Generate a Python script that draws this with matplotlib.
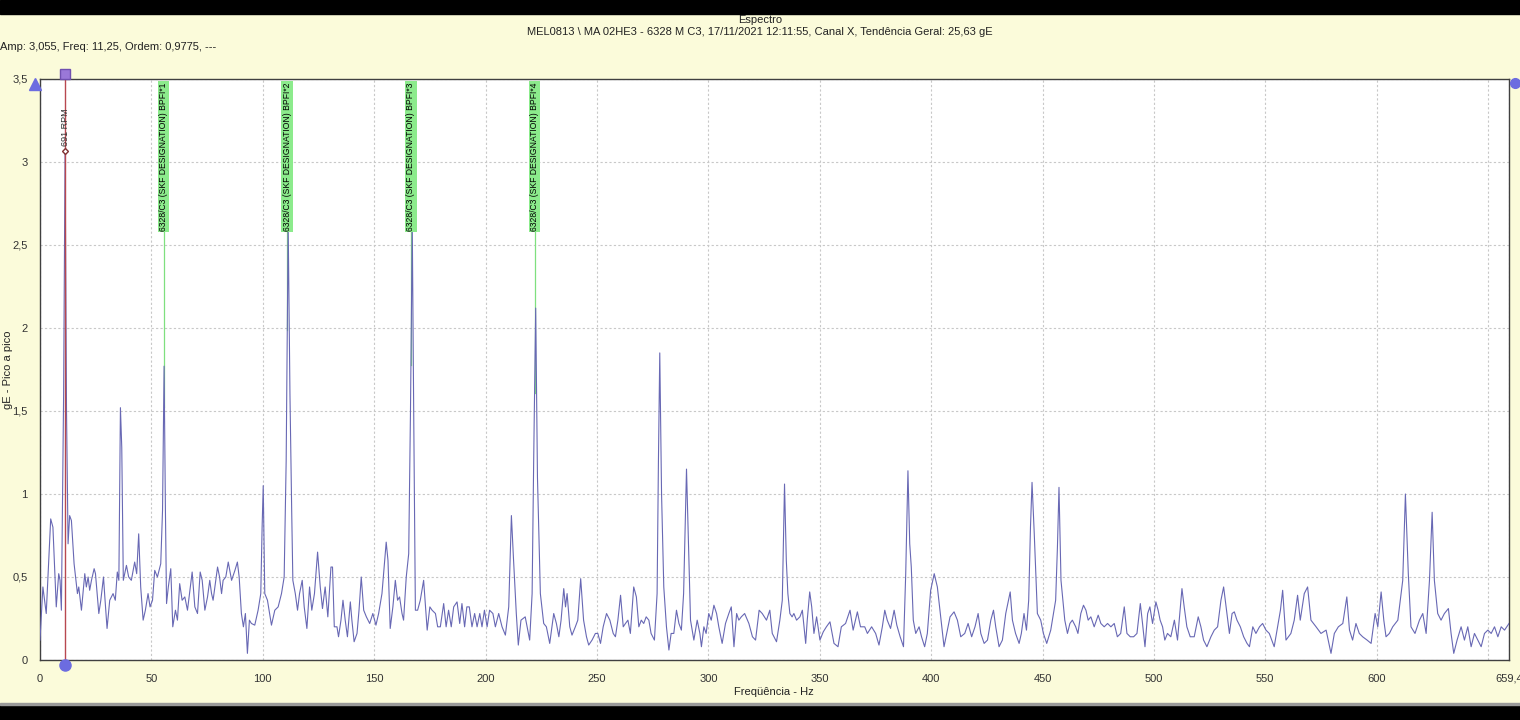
import matplotlib
matplotlib.use('Agg')
import matplotlib.pyplot as plt
from matplotlib.patches import Rectangle
import numpy as np

plt.rcParams['font.family'] = ['Liberation Sans', 'DejaVu Sans']

# ---------------- texts ----------------
title_text = "Espectro"
subtitle_text = "MEL0813 \\ MA 02HE3 - 6328 M C3, 17/11/2021 12:11:55, Canal X, Tendência Geral: 25,63 gE"
cursor_text = "Amp: 3,055, Freq: 11,25, Ordem: 0,9775, ---"
x_label = "Freqüência - Hz"
y_label = "gE - Pico a pico"

# ---------------- ticks ----------------
x_tick_values = [0, 50, 100, 150, 200, 250, 300, 350, 400, 450, 500, 550, 600, 650, 659.4]
x_tick_labels = ['0', '50', '100', '150', '200', '250', '300', '350', '400', '450',
                 '500', '550', '600', '', '659,4']
y_tick_values = [0, 0.5, 1, 1.5, 2, 2.5, 3, 3.5]
y_tick_labels = ['0', '0,5', '1', '1,5', '2', '2,5', '3', '3,5']

# ---------------- cursor / markers ----------------
marker_freq = 11.25
marker_amp = 3.055
marker_label = "691 RPM"

bpfi_freqs = [55.5, 111.0, 166.5, 222.0]
bpfi_labels = ["6328/C3 (SKF DESIGNATION) BPFI*1",
               "6328/C3 (SKF DESIGNATION) BPFI*2",
               "6328/C3 (SKF DESIGNATION) BPFI*3",
               "6328/C3 (SKF DESIGNATION) BPFI*4"]
bpfi_label_base = 2.585

# ---------------- spectrum (freq Hz, amplitude gE) ----------------
spectrum_0_110 = [
    (0, 0.12), (1.3, 0.44), (2.8, 0.28), (4.8, 0.85), (5.8, 0.80), (7.3, 0.32), (8.4, 0.52),
    (9.0, 0.48), (9.6, 0.30), (10.6, 1.6), (11.25, 3.055), (11.9, 1.5), (12.6, 0.7), (13.3, 0.87),
    (14.1, 0.84), (15.3, 0.58), (16.8, 0.40), (17.4, 0.44), (18.6, 0.30), (20.1, 0.52), (20.8, 0.44),
    (21.6, 0.50), (22.3, 0.42), (23.1, 0.48), (24.3, 0.55), (24.9, 0.52), (26.4, 0.28), (27.3, 0.36),
    (28.5, 0.50), (29.1, 0.38), (30.1, 0.19), (31.3, 0.36), (32.8, 0.40), (33.8, 0.36), (34.7, 0.53),
    (35.4, 0.48), (36.1, 1.52), (36.7, 1.28), (37.4, 0.48), (38.8, 0.57), (39.8, 0.50), (41.0, 0.48),
    (42.5, 0.59), (43.4, 0.52), (44.3, 0.76), (45.2, 0.44), (46.3, 0.24), (47.3, 0.30), (48.5, 0.40),
    (49.4, 0.32), (50.5, 0.36), (51.5, 0.54), (52.7, 0.50), (54.2, 0.58), (55.0, 0.9), (55.7, 1.77),
    (56.3, 0.9), (56.8, 0.34), (57.6, 0.44), (58.7, 0.55), (59.6, 0.20), (60.8, 0.30), (61.7, 0.24),
    (62.7, 0.46), (63.8, 0.36), (65.0, 0.38), (66.2, 0.30), (68.3, 0.53), (69.5, 0.32), (70.7, 0.28),
    (71.9, 0.53), (72.8, 0.48), (74.0, 0.30), (75.2, 0.38), (76.2, 0.48), (77.0, 0.40), (77.7, 0.36),
    (79.7, 0.56), (80.6, 0.50), (81.5, 0.40), (82.2, 0.48), (83.4, 0.50), (84.5, 0.59), (86.0, 0.48),
    (87.5, 0.54), (88.6, 0.59), (89.4, 0.50), (90.4, 0.28), (91.3, 0.20), (92.2, 0.28), (93.1, 0.04),
    (94.0, 0.24), (94.9, 0.22), (96.4, 0.21), (97.9, 0.30), (99.1, 0.40), (99.7, 0.8), (100.2, 1.05),
    (100.9, 0.40), (102.1, 0.36), (103.9, 0.21), (105.4, 0.30), (106.9, 0.32), (108.4, 0.40),
    (109.6, 0.50),
]
spectrum_110_220 = [
    (110.5, 1.2), (111.4, 2.62), (112.2, 1.6), (113.0, 0.88), (113.5, 0.48), (114.6, 0.40),
    (115.6, 0.30), (116.5, 0.40), (117.7, 0.48), (118.6, 0.32), (119.8, 0.19), (121.0, 0.44),
    (122.0, 0.30), (123.2, 0.40), (124.6, 0.65), (125.8, 0.44), (126.8, 0.31), (128.0, 0.44),
    (129.2, 0.26), (130.6, 0.56), (131.3, 0.56), (132.1, 0.20), (133.3, 0.20), (134.0, 0.14),
    (135.1, 0.24), (136.0, 0.36), (137.0, 0.24), (138.0, 0.14), (139.3, 0.35), (140.0, 0.24),
    (141.0, 0.11), (142.3, 0.16), (143.2, 0.30), (144.2, 0.50), (145.3, 0.30), (146.5, 0.26),
    (148.0, 0.22), (149.4, 0.28), (150.8, 0.21), (152.0, 0.28), (153.5, 0.40), (155.4, 0.71),
    (156.2, 0.60), (157.2, 0.19), (158.4, 0.32), (159.5, 0.48), (160.5, 0.36), (161.4, 0.38),
    (162.5, 0.28), (163.2, 0.24), (164.4, 0.50), (165.5, 0.64), (166.3, 1.5), (167.1, 2.62),
    (167.8, 1.4), (168.5, 0.30), (169.5, 0.30), (170.7, 0.36), (172.2, 0.48), (173.8, 0.18),
    (175.0, 0.32), (176.0, 0.30), (177.5, 0.28), (178.5, 0.20), (179.7, 0.20), (181.2, 0.34),
    (182.3, 0.20), (183.4, 0.30), (184.6, 0.20), (185.7, 0.32), (187.2, 0.35), (188.4, 0.22),
    (189.4, 0.34), (190.6, 0.20), (191.6, 0.32), (192.7, 0.32), (193.9, 0.20), (195.1, 0.28),
    (196.2, 0.20), (197.4, 0.28), (198.4, 0.20), (199.5, 0.30), (200.7, 0.20), (201.8, 0.30),
    (203.3, 0.28), (204.4, 0.20), (205.9, 0.28), (207.4, 0.20), (208.9, 0.15), (210.4, 0.32),
    (211.6, 0.87), (212.5, 0.62), (213.8, 0.28), (214.7, 0.09), (215.9, 0.24), (217.8, 0.26),
    (219.8, 0.12),
]
spectrum_220_330 = [
    (220.9, 0.40), (221.6, 1.2), (222.5, 2.12), (223.3, 1.1), (224.6, 0.40), (226.1, 0.22),
    (227.3, 0.20), (228.8, 0.10), (230.6, 0.28), (231.8, 0.22), (232.9, 0.14), (233.9, 0.24),
    (235.1, 0.43), (235.9, 0.32), (236.6, 0.40), (237.8, 0.20), (238.8, 0.15), (240.3, 0.20),
    (241.4, 0.24), (242.7, 0.49), (244.0, 0.24), (245.3, 0.14), (246.3, 0.09), (247.8, 0.12),
    (249.3, 0.16), (250.4, 0.16), (251.6, 0.10), (252.8, 0.20), (254.3, 0.28), (255.8, 0.24),
    (257.3, 0.16), (258.3, 0.14), (259.4, 0.24), (260.6, 0.39), (261.8, 0.20), (262.8, 0.22),
    (263.9, 0.24), (265.0, 0.16), (266.5, 0.44), (267.7, 0.38), (268.8, 0.20), (269.9, 0.24),
    (271.0, 0.22), (272.1, 0.26), (273.3, 0.24), (274.3, 0.16), (275.8, 0.12), (277.0, 0.40),
    (277.6, 1.2), (278.2, 1.85), (279.0, 1.0), (280.0, 0.44), (281.2, 0.20), (282.3, 0.06),
    (283.3, 0.16), (284.5, 0.16), (285.7, 0.30), (286.8, 0.22), (287.9, 0.18), (288.9, 0.40),
    (290.2, 1.15), (291.2, 0.64), (292.0, 0.24), (293.5, 0.12), (295.0, 0.24), (296.2, 0.16),
    (296.9, 0.08), (298.0, 0.20), (299.0, 0.16), (300.2, 0.28), (301.3, 0.24), (302.5, 0.33),
    (303.7, 0.28), (304.7, 0.20), (306.2, 0.10), (307.7, 0.22), (309.2, 0.28), (310.3, 0.32),
    (311.5, 0.08), (312.7, 0.28), (313.7, 0.24), (314.8, 0.26), (316.3, 0.28), (318.2, 0.22),
    (319.8, 0.14), (321.2, 0.12), (322.8, 0.30), (324.2, 0.28), (326.1, 0.24), (327.6, 0.30),
    (328.7, 0.16),
]
spectrum_330_440 = [
    (330.6, 0.11), (332.1, 0.24), (333.2, 0.36), (334.2, 1.06), (335.0, 0.6), (335.7, 0.40),
    (336.6, 0.28), (337.6, 0.26), (338.4, 0.28), (339.6, 0.24), (341.1, 0.26), (342.2, 0.30),
    (343.7, 0.10), (344.4, 0.24), (345.5, 0.41), (346.4, 0.32), (347.4, 0.16), (348.6, 0.26),
    (350.1, 0.12), (351.6, 0.17), (353.0, 0.20), (354.6, 0.23), (356.4, 0.10), (358.2, 0.08),
    (359.7, 0.20), (361.6, 0.22), (363.6, 0.30), (365.0, 0.18), (366.9, 0.29), (368.3, 0.20),
    (370.2, 0.20), (371.4, 0.16), (373.3, 0.20), (375.1, 0.16), (376.6, 0.09), (378.1, 0.20),
    (379.2, 0.30), (380.3, 0.24), (381.8, 0.19), (383.4, 0.30), (384.6, 0.21), (386.1, 0.14),
    (387.6, 0.08), (388.6, 0.52), (389.6, 1.14), (390.4, 0.7), (391.1, 0.56), (392.0, 0.24),
    (393.1, 0.16), (394.6, 0.20), (395.7, 0.14), (397.1, 0.08), (398.3, 0.16), (399.8, 0.42),
    (401.4, 0.52), (402.8, 0.44), (404.3, 0.26), (405.8, 0.08), (407.0, 0.16), (408.5, 0.26),
    (410.3, 0.29), (411.8, 0.24), (413.3, 0.14), (415.1, 0.16), (416.6, 0.22), (418.2, 0.14),
    (419.7, 0.20), (421.1, 0.28), (422.3, 0.16), (423.8, 0.10), (425.3, 0.12), (426.8, 0.24),
    (428.0, 0.30), (429.0, 0.20), (430.5, 0.08), (432.0, 0.12), (433.5, 0.28), (435.5, 0.41),
    (436.5, 0.24), (437.9, 0.16), (439.5, 0.10),
]
spectrum_440_550 = [
    (440.5, 0.16), (441.7, 0.28), (442.8, 0.18), (443.8, 0.36), (444.6, 0.80), (445.3, 1.07),
    (446.3, 0.76), (447.7, 0.28), (449.2, 0.24), (450.4, 0.16), (451.9, 0.10), (453.7, 0.18),
    (455.9, 0.36), (456.7, 0.68), (457.4, 1.04), (458.3, 0.48), (460.0, 0.24), (461.2, 0.16),
    (462.3, 0.22), (463.4, 0.24), (464.9, 0.20), (465.9, 0.16), (467.2, 0.28), (468.4, 0.33),
    (469.5, 0.30), (470.5, 0.24), (471.7, 0.26), (473.2, 0.20), (475.0, 0.27), (476.2, 0.22),
    (477.7, 0.20), (479.2, 0.22), (480.7, 0.20), (482.2, 0.22), (483.6, 0.14), (485.1, 0.16),
    (486.7, 0.32), (487.9, 0.16), (489.4, 0.14), (490.9, 0.14), (492.4, 0.16), (493.9, 0.34),
    (494.9, 0.22), (496.0, 0.08), (497.2, 0.28), (498.2, 0.32), (499.4, 0.22), (500.9, 0.35),
    (501.9, 0.30), (502.8, 0.24), (503.9, 0.20), (504.9, 0.12), (506.1, 0.16), (507.6, 0.14),
    (509.2, 0.24), (510.6, 0.12), (512.6, 0.43), (513.6, 0.32), (514.8, 0.20), (516.3, 0.14),
    (518.1, 0.14), (519.9, 0.26), (521.1, 0.20), (522.3, 0.12), (523.8, 0.08), (525.6, 0.14),
    (527.1, 0.18), (528.6, 0.20), (530.1, 0.36), (531.3, 0.44), (532.4, 0.32), (533.9, 0.16),
    (535.1, 0.28), (536.1, 0.29), (537.3, 0.24), (538.8, 0.20), (540.3, 0.14), (541.8, 0.10),
    (542.9, 0.08), (544.4, 0.20), (545.8, 0.16), (547.4, 0.20), (548.8, 0.22),
]
spectrum_550_660 = [
    (550.3, 0.18), (551.8, 0.16), (554.0, 0.08), (555.5, 0.20), (556.8, 0.30), (557.8, 0.42),
    (559.3, 0.12), (561.5, 0.16), (563.0, 0.24), (564.5, 0.39), (565.7, 0.24), (567.5, 0.40),
    (569.0, 0.44), (570.5, 0.24), (572.8, 0.20), (575.0, 0.16), (577.3, 0.18), (579.5, 0.04),
    (581.0, 0.16), (582.8, 0.20), (584.8, 0.22), (586.6, 0.38), (587.8, 0.18), (589.2, 0.12),
    (590.7, 0.22), (592.2, 0.16), (593.7, 0.14), (595.7, 0.12), (597.5, 0.10), (599.3, 0.28),
    (600.5, 0.20), (602.0, 0.41), (603.2, 0.24), (604.2, 0.14), (605.7, 0.16), (607.2, 0.20),
    (609.5, 0.24), (611.7, 0.48), (612.9, 1.0), (614.2, 0.52), (615.4, 0.20), (617.2, 0.16),
    (619.2, 0.24), (620.7, 0.28), (622.2, 0.16), (623.7, 0.48), (624.9, 0.89), (625.9, 0.48),
    (627.4, 0.28), (628.9, 0.24), (630.4, 0.28), (632.2, 0.31), (633.4, 0.16), (634.6, 0.04),
    (636.1, 0.12), (637.9, 0.20), (639.4, 0.12), (640.9, 0.20), (642.4, 0.08), (643.9, 0.16),
    (645.4, 0.12), (646.9, 0.08), (648.4, 0.16), (649.9, 0.18), (651.4, 0.16), (652.9, 0.20),
    (654.4, 0.14), (655.9, 0.20), (657.4, 0.18), (658.9, 0.21), (659.4, 0.22),
]

segments = [spectrum_0_110, spectrum_110_220, spectrum_220_330,
            spectrum_330_440, spectrum_440_550, spectrum_550_660]
freq_hz = [p[0] for seg in segments for p in seg]
amp_ge = [p[1] for seg in segments for p in seg]

# ---------------- figure ----------------
W, H = 1520, 720
bg = '#FBFBDA'
fig = plt.figure(figsize=(W / 100, H / 100), dpi=100, facecolor=bg)

# black window bands
fig.add_artist(Rectangle((0, 1 - 14 / H), 1, 14 / H, transform=fig.transFigure,
                         color='black', zorder=0))
fig.add_artist(Rectangle((0, 0), 1, 15 / H, transform=fig.transFigure,
                         color='black', zorder=0))
fig.add_artist(Rectangle((0, 15 / H), 1, 2 / H, transform=fig.transFigure,
                         color='#9A9A9A', zorder=0))

ax = fig.add_axes([40 / W, 60 / H, 1469 / W, 581 / H])
ax.set_facecolor('white')

# grid
ax.set_xlim(0, 659.4)
ax.set_ylim(0, 3.5)
ax.set_xticks(x_tick_values)
ax.set_xticklabels(x_tick_labels)
ax.set_yticks(y_tick_values)
ax.set_yticklabels(y_tick_labels)
ax.grid(True, color='#C8C8C8', linestyle=(0, (2, 2)), linewidth=0.8)
ax.set_axisbelow(True)
ax.tick_params(axis='both', length=0, labelsize=8, colors='#333333')
ax.tick_params(axis='x', pad=10)
ax.tick_params(axis='y', pad=9)
for s in ax.spines.values():
    s.set_color('#404040')
    s.set_linewidth(1.0)

# BPFI cursor lines: from label down to the spectrum value
for f in bpfi_freqs:
    end = float(np.interp(f, freq_hz, amp_ge))
    ax.plot([f, f], [end, bpfi_label_base], color='#7FE07F', lw=0.9, zorder=2)

# spectrum
ax.plot(freq_hz, amp_ge, color='#6868B4', lw=0.8, zorder=3)

# BPFI labels
for f, lab in zip(bpfi_freqs, bpfi_labels):
    ax.text(f, bpfi_label_base, lab, rotation=90, ha='center', va='bottom',
            fontsize=6.2, color='black', zorder=6,
            bbox=dict(boxstyle='square,pad=0.15', fc='#8CEB8C', ec='none'))

# cursor at marker frequency
ax.plot([marker_freq, marker_freq], [-0.03, 3.53], color='#B84850', lw=1.0,
        clip_on=False, zorder=4)
ax.plot(marker_freq, 3.53, marker='s', ms=7, mfc='#9A78D8', mec='#7050B0',
        clip_on=False, zorder=7)
ax.plot(marker_freq, -0.03, marker='o', ms=8, color='#6C6CE0', mec='#6C6CE0',
        clip_on=False, zorder=7)
ax.text(marker_freq, 3.21, marker_label, rotation=90, ha='center', va='center',
        fontsize=6.5, color='#303030', zorder=5)
ax.plot(marker_freq, marker_amp + 0.01, marker='D', ms=3, mfc='white', mec='#803030',
        zorder=6)

# edge arrows / handles
ax.plot(-2.25, 3.47, marker='^', ms=9, color='#6C6CE0', clip_on=False, zorder=7)
ax.plot(662.2, 3.476, marker='o', ms=7, color='#6C6CE0', clip_on=False, zorder=7)

# texts
fig.text(0.5, 1 - 20 / H, title_text, ha='center', va='center', fontsize=8, color='#222222')
fig.text(0.5, 1 - 32 / H, subtitle_text, ha='center', va='center', fontsize=8, color='#222222')
fig.text(0.0, 1 - 47 / H, cursor_text, ha='left', va='center', fontsize=8, color='#222222')
fig.text(774 / W, 1 - 692 / H, x_label, ha='center', va='center', fontsize=8, color='#222222')
fig.text(8 / W, 1 - 370 / H, y_label, ha='center', va='center', rotation=90,
         fontsize=8, color='#222222')

fig.savefig('out.png', dpi=100, facecolor=bg)
